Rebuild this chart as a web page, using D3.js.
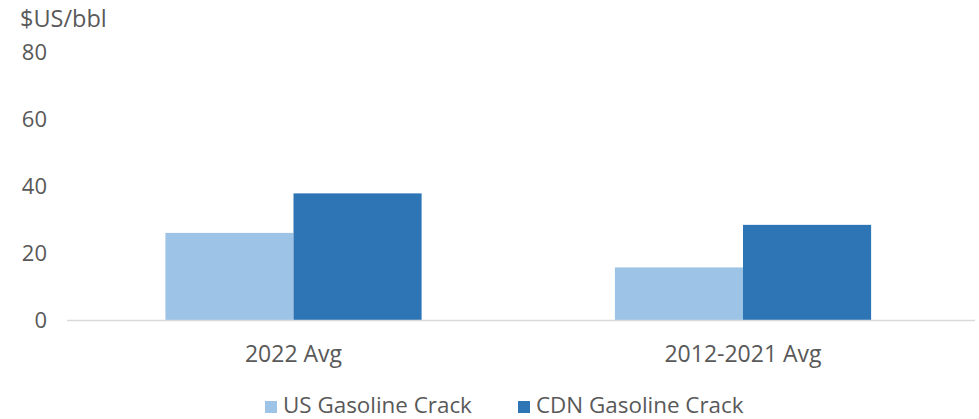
<!DOCTYPE html>
<html><head><meta charset="utf-8">
<script src="https://cdn.jsdelivr.net/npm/d3@7"></script>
<style>body{margin:0;background:#fff;} text{font-family:"Open Sans","Noto Sans",sans-serif;fill:#595959;font-weight:400;}</style>
</head><body><svg id="c" width="979" height="419"></svg>
<script>
const categories = ["2022 Avg", "2012-2021 Avg"];
const seriesNames = ["US Gasoline Crack", "CDN Gasoline Crack"];
const usValues = [26, 15.7];
const cdnValues = [37.8, 28.4];
const yTicks = [0, 20, 40, 60, 80];
const colors = ["#9dc3e6", "#2e75b6"];

const svg = d3.select("#c");
const x = d3.scaleBand().domain(categories).range([68.75, 967.75]).paddingInner(0.43).paddingOuter(0.215);
const x1 = d3.scaleBand().domain(seriesNames).range([0, x.bandwidth()]);
const y = d3.scaleLinear().domain([0, 80]).range([320, 52]);

// y axis labels
svg.append("g").selectAll("text").data(yTicks).join("text")
  .attr("x", 47).attr("y", d => y(d)).attr("dy", "0.36em")
  .attr("text-anchor", "end").attr("font-size", 22).text(d => d);
svg.append("text").attr("x", 20).attr("y", 27).attr("font-size", 23.5).text("$US/bbl");

const data = [usValues, cdnValues];
seriesNames.forEach((s, i) => {
  svg.append("g").selectAll("rect").data(categories).join("rect")
    .attr("x", c => x(c) + x1(s)).attr("width", x1.bandwidth())
    .attr("y", (c, j) => y(data[i][j])).attr("height", (c, j) => y(0) - y(data[i][j]))
    .attr("fill", colors[i]);
});

// baseline
svg.append("line").attr("x1", 67).attr("x2", 975).attr("y1", y(0) + 0.5).attr("y2", y(0) + 0.5)
  .attr("stroke", "#d9d9d9").attr("stroke-width", 1.5);

// category labels
svg.append("g").selectAll("text").data(categories).join("text")
  .attr("x", c => x(c) + x.bandwidth() / 2).attr("y", 362)
  .attr("text-anchor", "middle").attr("font-size", 23).text(c => c);

// legend
const legX = [265, 518];
const lg = svg.append("g").selectAll("g").data(seriesNames).join("g")
  .attr("transform", (d, i) => `translate(${legX[i]},413)`);
lg.append("rect").attr("x", 0).attr("y", -12).attr("width", 12).attr("height", 12).attr("fill", (d, i) => colors[i]);
lg.append("text").attr("x", 18).attr("y", 0).attr("font-size", 22.4).text(d => d);
</script></body></html>
